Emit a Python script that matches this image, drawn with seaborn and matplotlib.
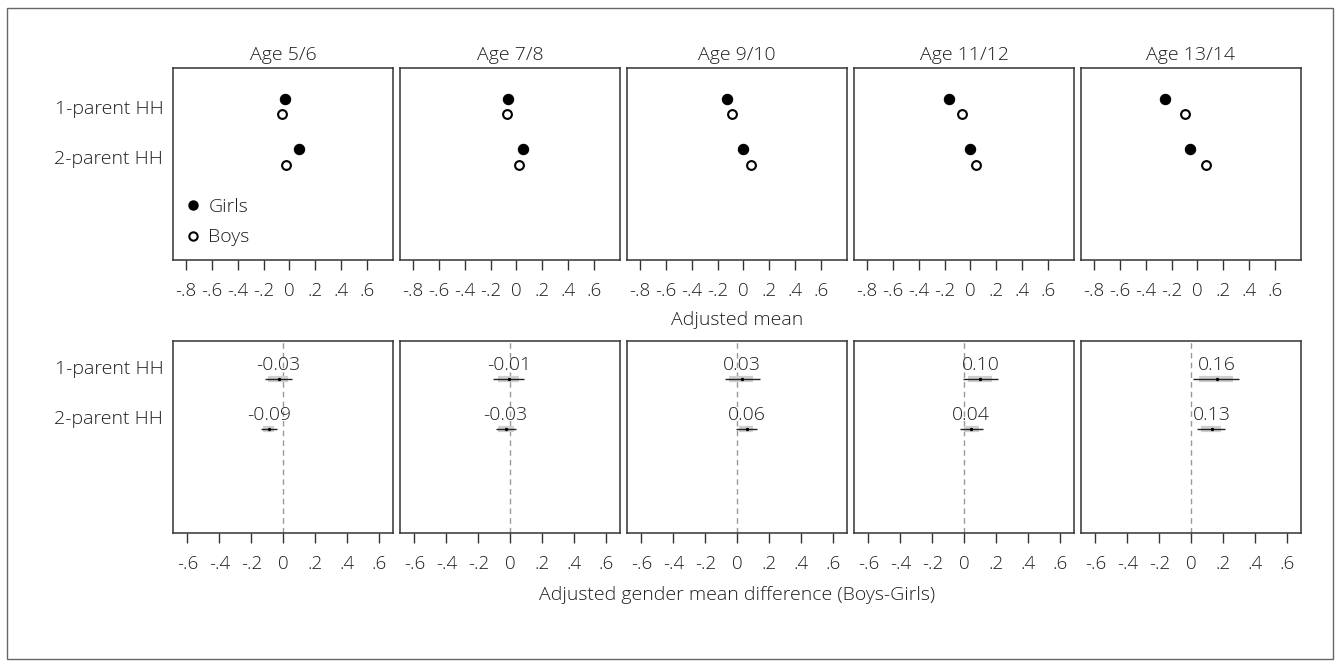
import numpy as np
import pandas as pd
import matplotlib
matplotlib.use("Agg")
import matplotlib.pyplot as plt
from matplotlib.lines import Line2D
from matplotlib.patches import Rectangle
import seaborn as sns

# ---------------- data ----------------
ages = ["Age 5/6", "Age 7/8", "Age 9/10", "Age 11/12", "Age 13/14"]
households = ["1-parent HH", "2-parent HH"]

girls_1p = [-0.033, -0.062, -0.124, -0.163, -0.253]
boys_1p = [-0.059, -0.074, -0.090, -0.062, -0.098]
girls_2p = [0.070, 0.050, 0.000, 0.000, -0.060]
boys_2p = [-0.026, 0.023, 0.060, 0.042, 0.064]

diff_1p = [-0.03, -0.01, 0.03, 0.10, 0.16]
diff_2p = [-0.09, -0.03, 0.06, 0.04, 0.13]
diff_1p_labels = ["-0.03", "-0.01", "0.03", "0.10", "0.16"]
diff_2p_labels = ["-0.09", "-0.03", "0.06", "0.04", "0.13"]

ci95_lo_1p = [-0.114, -0.110, -0.080, -0.010, 0.010]
ci95_hi_1p = [0.056, 0.086, 0.140, 0.210, 0.300]
ci90_lo_1p = [-0.094, -0.080, -0.050, 0.020, 0.050]
ci90_hi_1p = [0.031, 0.056, 0.100, 0.170, 0.260]
ci95_lo_2p = [-0.141, -0.090, -0.010, -0.025, 0.035]
ci95_hi_2p = [-0.041, 0.034, 0.125, 0.115, 0.210]
ci90_lo_2p = [-0.125, -0.075, 0.010, -0.004, 0.060]
ci90_hi_2p = [-0.058, 0.020, 0.100, 0.094, 0.185]

top_ticks = [-0.8, -0.6, -0.4, -0.2, 0.0, 0.2, 0.4, 0.6]
top_ticklabels = ["-.8", "-.6", "-.4", "-.2", "0", ".2", ".4", ".6"]
bot_ticks = [-0.6, -0.4, -0.2, 0.0, 0.2, 0.4, 0.6]
bot_ticklabels = ["-.6", "-.4", "-.2", "0", ".2", ".4", ".6"]

# ---------------- style ----------------
sns.set_theme(style="white")
plt.rcParams["font.family"] = ["Open Sans", "DejaVu Sans"]
TXT = "#1e1e1e"
FS = 14
TFS = 13.5
plt.rcParams.update({
    "axes.edgecolor": "#333333",
    "axes.linewidth": 1.1,
    "xtick.color": "#333333",
    "text.color": TXT,
    "font.weight": "light",
    "axes.titleweight": "light",
})

W, H = 1340, 667
fig = plt.figure(figsize=(W / 100, H / 100), dpi=100)
fig.patch.set_facecolor("white")
fig.patches.append(Rectangle((7 / W, 1 - 659 / H), (1333 - 7) / W, (659 - 8) / H,
                             transform=fig.transFigure, fill=False,
                             edgecolor="#666666", lw=1.0))

lefts = [173, 400, 627, 854, 1081]
pw = 220
ph = 192
top_y0, bot_y0 = 68, 341

rows_df = []
for i, a in enumerate(ages):
    rows_df.append((a, households[0], "Girls", girls_1p[i]))
    rows_df.append((a, households[0], "Boys", boys_1p[i]))
    rows_df.append((a, households[1], "Girls", girls_2p[i]))
    rows_df.append((a, households[1], "Boys", boys_2p[i]))
df = pd.DataFrame(rows_df, columns=["age", "hh", "sex", "mean"])
df["y"] = df["hh"].map({households[0]: 1, households[1]: 2}) + \
    df["sex"].map({"Girls": -0.16, "Boys": 0.16})

ddf = pd.DataFrame({
    "age": ages * 2,
    "hh": [households[0]] * 5 + [households[1]] * 5,
    "diff": diff_1p + diff_2p,
    "label": diff_1p_labels + diff_2p_labels,
    "lo95": ci95_lo_1p + ci95_lo_2p,
    "hi95": ci95_hi_1p + ci95_hi_2p,
    "lo90": ci90_lo_1p + ci90_lo_2p,
    "hi90": ci90_hi_1p + ci90_hi_2p,
})
ddf["y"] = ddf["hh"].map({households[0]: 1, households[1]: 2})


def make_ax(left, top):
    return fig.add_axes([left / W, 1 - (top + ph) / H, pw / W, ph / H])


for i, age in enumerate(ages):
    # ---- top: adjusted means ----
    ax = make_ax(lefts[i], top_y0)
    sub = df[df["age"] == age]
    g = sub[sub["sex"] == "Girls"]
    b = sub[sub["sex"] == "Boys"]
    sns.scatterplot(data=g, x="mean", y="y", ax=ax, color="black",
                    edgecolor="black", s=55, linewidth=0.8, legend=False, zorder=3)
    sns.scatterplot(data=b, x="mean", y="y", ax=ax, color="white",
                    edgecolor="black", s=40, linewidth=1.5, legend=False, zorder=3)
    ax.set_xlim(-0.9, 0.8)
    ax.set_ylim(4.07, 0.23)
    ax.set_xticks(top_ticks)
    ax.set_xticklabels(top_ticklabels, fontsize=TFS, color=TXT)
    ax.set_yticks([1, 2])
    if i == 0:
        ax.set_yticklabels(households, fontsize=FS, color=TXT)
        handles = [
            Line2D([], [], ls="none", marker="o", markersize=6.5,
                   markerfacecolor="black", markeredgecolor="black", label="Girls"),
            Line2D([], [], ls="none", marker="o", markersize=6,
                   markerfacecolor="white", markeredgecolor="black",
                   markeredgewidth=1.5, label="Boys"),
        ]
        ax.legend(handles=handles, loc="lower left", frameon=False,
                  fontsize=FS, handletextpad=0.3, handlelength=1.0,
                  borderaxespad=0.0, labelspacing=0.65,
                  bbox_to_anchor=(0.01, 0.03))
    else:
        ax.set_yticklabels([])
    ax.tick_params(axis="y", length=0, pad=7)
    ax.tick_params(axis="x", direction="out", length=7, width=1.0, pad=9,
                   bottom=True)
    ax.set_xlabel("")
    ax.set_ylabel("")
    ax.set_title(age, fontsize=FS, color=TXT, pad=6, fontweight="light")
    for s in ax.spines.values():
        s.set_visible(True)

    # ---- bottom: differences ----
    ax2 = make_ax(lefts[i], bot_y0)
    sd = ddf[ddf["age"] == age]
    ax2.axvline(0, color="#999999", lw=1.0, ls=(0, (4, 3)), zorder=1)
    ax2.hlines(sd["y"] + 0.25, sd["lo90"], sd["hi90"], color="#d0d0d0",
               lw=4.5, zorder=2)
    ax2.hlines(sd["y"] + 0.25, sd["lo95"], sd["hi95"], color="#222222",
               lw=1.0, zorder=3)
    sns.scatterplot(x=sd["diff"], y=sd["y"] + 0.25, ax=ax2, color="black",
                    s=6, linewidth=0, legend=False, zorder=4)
    for _, r in sd.iterrows():
        ax2.text(r["diff"], r["y"] + 0.06, r["label"], ha="center",
                 va="baseline", fontsize=FS, color=TXT, zorder=5)
    ax2.set_xlim(-0.69, 0.685)
    ax2.set_ylim(4.33, 0.49)
    ax2.set_xticks(bot_ticks)
    ax2.set_xticklabels(bot_ticklabels, fontsize=TFS, color=TXT)
    ax2.set_yticks([1, 2])
    if i == 0:
        ax2.set_yticklabels(households, fontsize=FS, color=TXT)
    else:
        ax2.set_yticklabels([])
    ax2.tick_params(axis="y", length=0, pad=7)
    ax2.tick_params(axis="x", direction="out", length=7, width=1.0, pad=9,
                    bottom=True)
    ax2.set_xlabel("")
    ax2.set_ylabel("")
    for s in ax2.spines.values():
        s.set_visible(True)

fig.text(737 / W, 1 - 320 / H, "Adjusted mean", ha="center", va="center",
         fontsize=FS, color=TXT)
fig.text(737 / W, 1 - 595 / H, "Adjusted gender mean difference (Boys-Girls)",
         ha="center", va="center", fontsize=FS, color=TXT)

fig.savefig("out.png", dpi=100, facecolor="white")
